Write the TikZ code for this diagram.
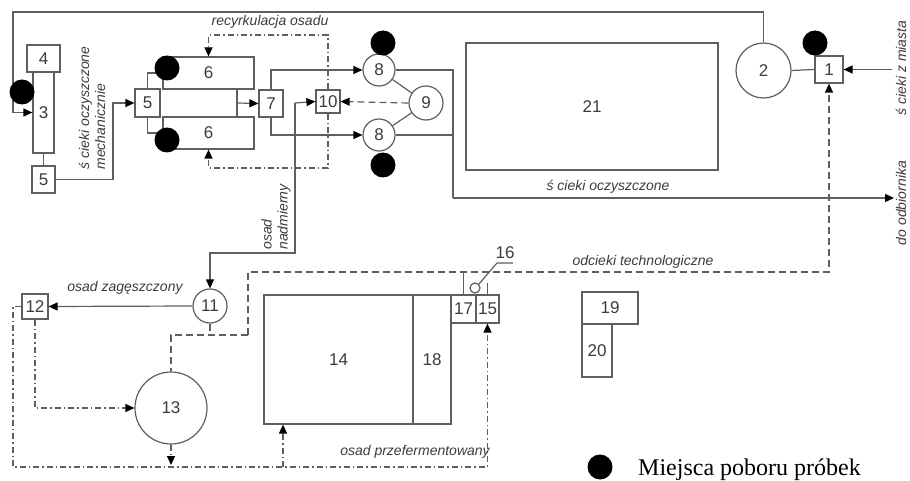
\documentclass[tikz,border=0pt]{standalone}
\usepackage{fontspec}
\setmainfont{Liberation Serif}
\newfontfamily\lsans{Liberation Sans}
\usetikzlibrary{arrows.meta}
\definecolor{lineC}{RGB}{95,95,95}
\definecolor{textC}{RGB}{60,60,60}
\begin{document}
\begin{tikzpicture}[x=1pt,y=-1pt,
  ln/.style={draw=lineC, line width=1.2pt},
  tip/.style={-{Triangle[length=9pt,width=8pt,color=black]}},
  box/.style={rectangle, draw=lineC, line width=1.2pt, inner sep=0pt, text=textC, font=\lsans\fontsize{17}{19}\selectfont},
  circ/.style={box, circle},
  dsh/.style={ln, dash pattern=on 7pt off 4pt},
  dd/.style={ln, dash pattern=on 6pt off 3pt on 1.5pt off 3pt},
  lbl/.style={text=textC, font=\lsans\itshape\fontsize{14}{16}\selectfont, inner sep=0pt},
  num/.style={text=textC, font=\lsans\fontsize{17}{19}\selectfont, inner sep=0pt},
  sample/.style={circle, fill=black, minimum size=25pt, inner sep=0pt}]
\useasboundingbox (0,0) rectangle (910,481);
\fill[white] (0,0) rectangle (910,481);

% ---- nodes
\node[box, minimum width=33pt, minimum height=27pt] (n4) at (43.5,58.5) {4};
\node[box, minimum width=21pt, minimum height=81pt] (n3) at (43.5,112.5) {3};
\node[box, minimum width=23pt, minimum height=27pt] (n5a) at (43.5,179.5) {5};
\node[box, minimum width=25pt, minimum height=28pt] (n5b) at (147.5,103) {5};
\node[box, minimum width=91pt, minimum height=32pt] (n6a) at (208.5,73) {6};
\node[box, minimum width=91pt, minimum height=32pt] (n6b) at (208.5,133) {6};
\node[box, minimum width=24pt, minimum height=27pt] (n7) at (271,103.5) {7};
\node[box, minimum width=24pt, minimum height=23pt] (n10) at (328,101.5) {10};
\node[circ, minimum size=32pt] (n8a) at (379,70) {8};
\node[circ, minimum size=32pt] (n8b) at (379,135) {8};
\node[circ, minimum size=34pt] (n9) at (426,103) {9};
\node[box, minimum width=252pt, minimum height=127pt] (n21) at (592,106.5) {21};
\node[circ, minimum size=55pt] (n2) at (763.5,70.5) {2};
\node[box, minimum width=28pt, minimum height=27pt] (n1) at (829,69.5) {1};
\node[circ, minimum size=34pt] (n11) at (210,306) {11};
\node[box, minimum width=26pt, minimum height=25pt] (n12) at (35,306.5) {12};
\node[circ, minimum size=72pt] (n13) at (171,408) {13};
\node[box, minimum width=149pt, minimum height=129pt] (n14) at (338.5,359.5) {14};
\node[box, minimum width=38pt, minimum height=129pt] (n18) at (432,359.5) {18};
\node[box, minimum width=25pt, minimum height=28pt] (n17) at (463.5,309) {17};
\node[box, minimum width=23pt, minimum height=28pt] (n15) at (487.5,309) {15};
\node[circ, minimum size=10pt] (n16) at (475,288) {};
\node[box, minimum width=56pt, minimum height=32pt] (n19) at (610,308) {19};
\node[box, minimum width=30pt, minimum height=53pt] (n20) at (597,350.5) {20};

% ---- helper coordinates
\coordinate (tl) at (13,12);
\coordinate (m1) at (113,179.5);
\coordinate (m2) at (113,103);
\coordinate (j6a) at (237,89);
\coordinate (j6b) at (237,117);
\coordinate (j6) at (237,103);
\coordinate (o1) at (453,70);
\coordinate (o2) at (453,135);
\coordinate (o3) at (453,198);
\coordinate (out) at (894,198);
\coordinate (city) at (892,69.5);
\coordinate (rtl) at (208.5,35);
\coordinate (rtr) at (328,35);
\coordinate (rbr) at (328,168);
\coordinate (rbl) at (208.5,168);
\coordinate (x1) at (295,103);
\coordinate (x2) at (295,253);
\coordinate (x3) at (210,253);
\coordinate (d1) at (210,335);
\coordinate (d2) at (248,335);
\coordinate (d3) at (171,335);
\coordinate (d4) at (248,272);
\coordinate (d5) at (829,272);
\coordinate (s1) at (35,408);
\coordinate (b1) at (13,306.5);
\coordinate (b2) at (13,467);
\coordinate (b3) at (487.5,467);
\coordinate (b4) at (283,467);
\coordinate (b5) at (171,465);
\coordinate (c1) at (463.5,272);
\coordinate (l1) at (497,263);
\coordinate (l2) at (513,263);

% ---- solid connectors
\draw[ln, tip] (n2.north) |- (tl) |- (n3.west);
\draw[ln] (n3.south) -- (n5a.north);
\draw[ln, tip] (n5a.east) -- (m1) -- (m2) -- (n5b.west);
\draw[ln] (n5b.north) |- (n6a.west);
\draw[ln] (n5b.south) |- (n6b.west);
\draw[ln] (j6a) -- (j6b);
\draw[ln, tip] (j6) -- (n7.west);
\draw[ln, tip] (n7.north) |- (n8a.west);
\draw[ln, tip] (n7.south) |- (n8b.west);
\draw[ln] (n9) -- (n8a);
\draw[ln] (n9) -- (n8b);
\draw[ln] (n8a.east) -- (o1) -- (o3);
\draw[ln] (n8b.east) -- (o2);
\draw[ln, tip] (o3) -- (out);
\draw[ln] (n2.east) -- (n1.west);
\draw[ln, tip] (city) -- (n1.east);
\draw[ln, tip] (x1) -- (n10.west);
\draw[ln, tip] (x1) -- (x2) -- (x3) -- (n11.north);
\draw[ln, tip] (n11.west) -- (n12.east);
\draw[ln] (c1) -- (n17.north);
\draw[ln] (n16.45) -- (l1) -- (l2);
\draw[ln] (n15.north) ++(0,-11) -- (n15.north);

% ---- dashed connectors
\draw[dsh, tip] (n9.west) -- (n10.east);
\draw[dd, tip] (n10.north) -- (rtr) -- (rtl) -- (n6a.north);
\draw[dd, tip] (n10.south) -- (rbr) -- (rbl) -- (n6b.south);
\draw[dsh] (n11.south) -- (d1);
\draw[dsh] (d2) -- (d3) -- (n13.north);
\draw[dsh, tip] (d2) -- (d4) -- (d5) -- (n1.south);
\draw[dd, tip] (n12.south) -- (s1) -- (n13.west);
\draw[dd, tip] (n12.west) -- (b1) -- (b2) -- (b3) -- (n15.south);
\draw[dd, tip] (b4) -- (n14.south -| b4);
\draw[dd, tip] (n13.south) -- (b5);

% ---- labels
\node[lbl] (t1) at (270,22) {recyrkulacja osadu};
\node[lbl, rotate=90, align=left] (t2) at (92,108) {ś cieki oczyszczone\\mechanicznie};
\node[lbl, rotate=90, align=left] (t3) at (276,217) {osad\\nadmierny};
\node[lbl] (t4) at (125,288) {osad zagęszczony};
\node[lbl] (t5) at (415,452) {osad przefermentowany};
\node[lbl] (t6) at (608,187) {ś cieki oczyszczone};
\node[lbl] (t7) at (643,262) {odcieki technologiczne};
\node[lbl, rotate=90] (t8) at (901,68) {ś cieki z miasta};
\node[lbl, rotate=90] (t9) at (901,203) {do odbiornika};
\node[num] (t16) at (505,253) {16};

% ---- sampling points
\node[sample] (p1) at (22,92) {};
\node[sample] (p2) at (167,68) {};
\node[sample] (p3) at (167,140) {};
\node[sample] (p4) at (383,43) {};
\node[sample] (p5) at (383,165) {};
\node[sample] (p6) at (815,43) {};

% ---- legend
\node[sample] (ld) at (600,467) {};
\node[anchor=base west, inner sep=0pt, font=\fontsize{24}{27}\selectfont] (lt) at (638,475) {Miejsca poboru próbek};
\end{tikzpicture}
\end{document}
